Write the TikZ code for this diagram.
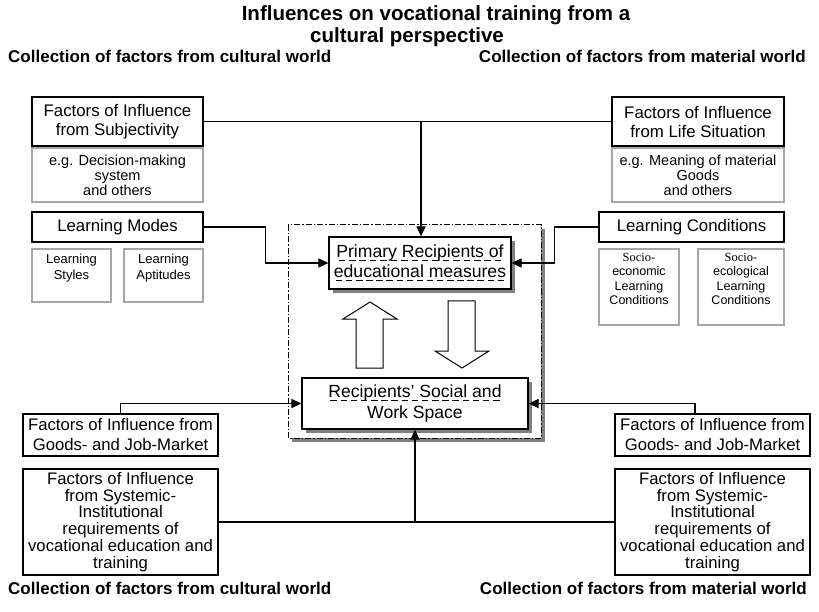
\documentclass[tikz,border=0pt]{standalone}
\usepackage{fontspec}
\setmainfont{Liberation Sans}
\newfontfamily\seriffam{Liberation Serif}
\usetikzlibrary{arrows.meta,shadows}
\definecolor{boxgray}{HTML}{A6A6A6}
\definecolor{shadowgray}{HTML}{808080}
\newcommand\myul[1]{\setbox0=\hbox{#1}\leavevmode\rlap{\copy0}\hbox to \wd0{\xleaders\hbox{\kern1.7pt\vrule width 6.5pt height -2.4pt depth 3.8pt\kern1.7pt}\hfill}}
\tikzset{
  blk/.style={draw, line width=1.2pt, align=center, inner sep=0pt, fill=white},
  gbox/.style={draw=boxgray, line width=1.2pt, align=center, inner sep=0pt},
  fbig/.style={font=\fontsize{16.8}{19}\selectfont},
  arr/.style={-{Triangle[length=10pt,width=9pt]}, line width=1.2pt},
  con/.style={line width=1.2pt},
  shad/.style={drop shadow={shadow xshift=4pt,shadow yshift=-4pt,fill=shadowgray,opacity=1}},
  ttl/.style={font=\bfseries\fontsize{20.5}{22}\selectfont, inner sep=0pt, anchor=base},
  sub/.style={font=\bfseries\fontsize{17}{19}\selectfont, inner sep=0pt},
  blockarrow/.style={draw, line width=1pt, fill=white, line join=miter}
}
\begin{document}
\begin{tikzpicture}[x=1pt,y=-1pt]
\useasboundingbox (0,0) rectangle (819,612);
% titles
\node[ttl] (t1) at (436,21) {Influences on vocational training from a};
\node[ttl] (t2) at (407,43) {cultural perspective};
\node[sub, anchor=base west] (s1) at (8,63) {Collection of factors from cultural world};
\node[sub, anchor=base east] (s2) at (806,63) {Collection of factors from material world};
\node[sub, anchor=base west] (s3) at (8,594) {Collection of factors from cultural world};
\node[sub, anchor=base east] (s4) at (807,594) {Collection of factors from material world};

% container
\path[draw, dash pattern=on 6pt off 2pt on 1.5pt off 2pt, line width=1pt, fill=white, shad] (288,225) rectangle (541,438);

% top boxes
\node[blk, fbig, minimum width=171pt, minimum height=49pt] (subj) at (117.5,121.5) {Factors of Influence\\from Subjectivity};
\node[gbox, font=\fontsize{14.5}{15}\selectfont, minimum width=171pt, minimum height=54pt] (subjg) at (117.5,175) {e.g. Decision-making\\system\\and others};
\node[blk, fbig, minimum width=172pt, minimum height=49pt] (life) at (698,121.5) {Factors of Influence\\from Life Situation};
\node[gbox, font=\fontsize{14.5}{15}\selectfont, minimum width=172pt, minimum height=54pt] (lifeg) at (698,175) {e.g. Meaning of material\\Goods\\and others};

\node[blk, fbig, minimum width=171pt, minimum height=30pt] (modes) at (117.5,227) {Learning Modes};
\node[gbox, font=\fontsize{13}{15.5}\selectfont, minimum width=79pt, minimum height=53pt] (styles) at (71.5,275.5) {Learning\\Styles\\[2pt]};
\node[gbox, font=\fontsize{13}{15.5}\selectfont, minimum width=79pt, minimum height=53pt] (apt) at (163.5,275.5) {Learning\\Aptitudes\\[2pt]};

\node[blk, fbig, minimum width=185pt, minimum height=30pt] (cond) at (691.5,227) {Learning Conditions};
\node[gbox, font=\fontsize{12.5}{14.5}\selectfont, minimum width=80pt, minimum height=76pt] (soce) at (639,287) {{\seriffam Socio-}\\economic\\Learning\\Conditions\\[2pt]};
\node[gbox, font=\fontsize{12.5}{14.5}\selectfont, minimum width=86pt, minimum height=76pt] (soco) at (741,287) {{\seriffam Socio-}\\ecological\\Learning\\Conditions\\[2pt]};

% bottom boxes
\node[blk, font=\fontsize{16.7}{20}\selectfont, minimum width=195pt, minimum height=42pt] (goodsL) at (120.5,435) {Factors of Influence from\\Goods- and Job-Market};
\node[blk, font=\fontsize{16.7}{16.7}\selectfont, minimum width=195pt, minimum height=106pt] (sysL) at (120.5,522) {Factors of Influence\\from Systemic-\\Institutional\\requirements of\\vocational education and\\training};
\node[blk, font=\fontsize{16.7}{20}\selectfont, minimum width=195pt, minimum height=42pt] (goodsR) at (712.5,435) {Factors of Influence from\\Goods- and Job-Market};
\node[blk, font=\fontsize{16.7}{16.7}\selectfont, minimum width=195pt, minimum height=106pt] (sysR) at (712.5,522) {Factors of Influence\\from Systemic-\\Institutional\\requirements of\\vocational education and\\training};

% central boxes
\node[blk, shad, font=\fontsize{17.6}{20}\selectfont, minimum width=182pt, minimum height=52pt] (primary) at (420,263) {\myul{Primary Recipients of}\\\myul{educational measures}};
\node[blk, shad, font=\fontsize{17.6}{21}\selectfont, minimum width=226pt, minimum height=51pt] (recip) at (415,403.5) {\myul{Recipients’ Social and}\\Work Space};

% block arrows
\draw[blockarrow] (356,368) -- (356,319) -- (343,319) -- (370,302) -- (397,319) -- (383,319) -- (383,368) -- cycle;
\draw[blockarrow] (448,301) -- (475,301) -- (475,351) -- (489,351) -- (462,368) -- (435,351) -- (448,351) -- cycle;

% connectors
\draw[con] (subj.east) -- (life.west);
\draw[arr] ([xshift=1pt]primary.north |- subj.east) -- ([xshift=1pt]primary.north);
\draw[arr] (modes.east) -- ++(62,0) |- (primary.west);
\draw[arr] (cond.west) -- ++(-44,0) |- (primary.east);
\draw[arr] (goodsL.north) |- (recip.west);
\draw[arr] ([xshift=-17.5pt]goodsR.north) |- (recip.east);
\draw[con] (sysL.east) -- (sysR.west);
\draw[arr] (recip.south |- sysL.east) -- (recip.south);
\end{tikzpicture}
\end{document}
